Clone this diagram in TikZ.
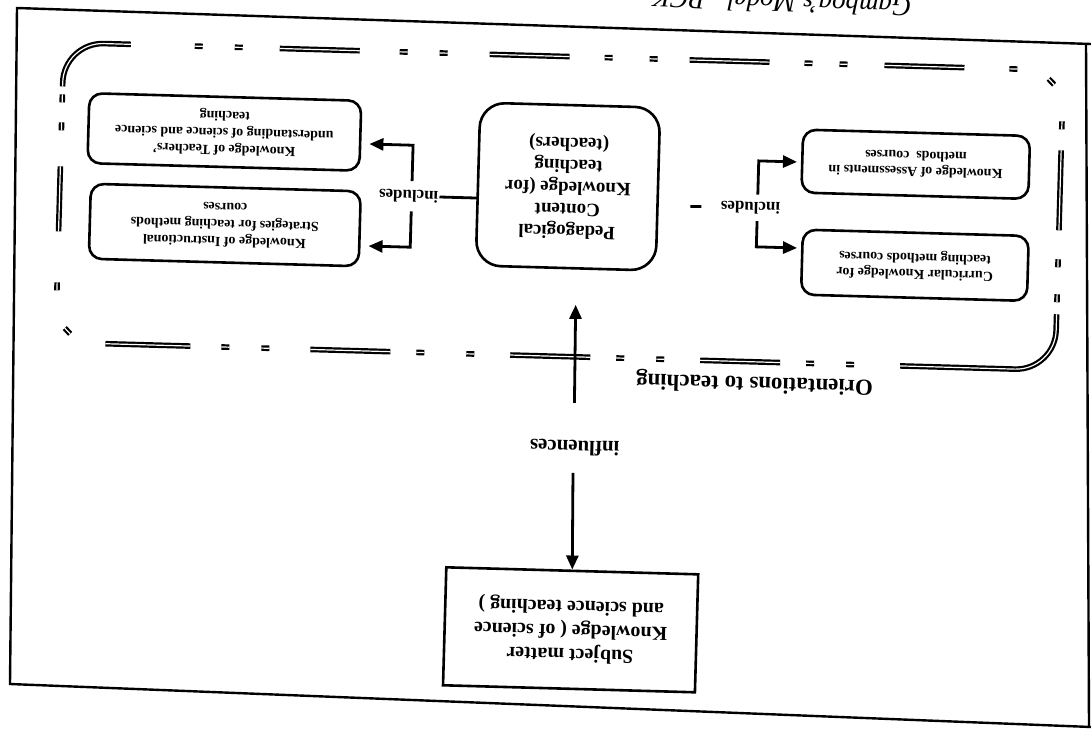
\documentclass[tikz,border=0pt]{standalone}
\usepackage{fontspec}
\setmainfont{Liberation Serif}
\usetikzlibrary{arrows.meta}
\begin{document}
\begin{tikzpicture}[x=1bp,y=-1bp,
  rbox/.style={draw, line width=2.6bp, rounded corners=13bp, align=center, rotate=178.4, inner sep=0pt,
    font=\bfseries\fontsize{14}{17}\selectfont},
  sbox/.style={rbox, font=\bfseries\fontsize{14}{16}\selectfont},
  lbl/.style={rotate=178.4, inner sep=1bp, font=\bfseries\fontsize{17}{20}\selectfont},
  arr/.style={line width=2.8bp, -{Triangle[length=14bp,width=12bp]}},
  ln/.style={line width=2.8bp},
  fr/.style={double, line width=2.2bp, double distance=1.2bp},
  outer/.style={line width=2.4bp}
]
\useasboundingbox (0,0) rectangle (1091,729);

% outer frame
\draw[outer] (1091,44) -- (17,8) -- (10,684) -- (1091,727);
\draw[outer] (1086,44) -- (1089,727);

% caption (cut off)
\node[rotate=178, inner sep=0pt, font=\itshape\fontsize{27}{30}\selectfont] (cap) at (782,3) {Gamboa's Model - PCK};

\begin{scope}[rotate around={-1.6:(545,365)}]
% dashed frame
\draw[fr, rounded corners=40bp] (55,100) -- (55,56) -- (122,56);
\foreach \a/\b in {186/194,226/234,271/351,391/399,431/439,481/561,596/604,641/649,681/761,796/804,831/839,876/956,1001/1009}
  \draw[fr] (\a,56) -- (\b,56);
\draw[fr] (1040.5,64.9) -- (1046.1,70.5);
\foreach \a/\b in {107/115,136/216,245/253,280/288}
  \draw[fr] (1055,\a) -- (1055,\b);
\draw[fr, rounded corners=40bp] (1055,300) -- (1055,356) -- (900,356);
\foreach \a/\b in {846/854,806/814,700/780,656/664,616/624,510/590,466/474,416/424,310/390,261/269,221/229,105/190}
  \draw[fr] (\a,356) -- (\b,356);
\draw[fr] (69.5,347.1) -- (63.9,341.5);
\foreach \a/\b in {296/304,180/245,136/144,108/116}
  \draw[fr] (55,\a) -- (55,\b);

% boxes
\node[rbox, minimum width=272bp, minimum height=70bp] (kt) at (218,141)
  {Knowledge of Teachers'\\understanding of science and science\\teaching};
\node[rbox, minimum width=270bp, minimum height=75bp] (ki) at (221,234)
  {Knowledge of Instructional\\Strategies for teaching methods\\courses};
\node[rbox, rounded corners=25bp, minimum width=180bp, minimum height=163bp,
  font=\bfseries\fontsize{19}{22}\selectfont] (pck) at (563,186)
  {Pedagogical\\Content\\Knowledge (for\\teaching\\(teachers)};
\node[sbox, minimum width=227bp, minimum height=63bp] (ka) at (910,154)
  {Knowledge of Assessments in\\methods~ courses};
\node[sbox, minimum width=226bp, minimum height=65bp] (kc) at (912,255)
  {Curricular Knowledge for\\teaching methods courses};
\node[rbox, rounded corners=0pt, minimum width=252bp, minimum height=118bp,
  font=\bfseries\fontsize{20}{24}\selectfont] (sm) at (578,629)
  {Subject matter\\Knowledge ( of science\\and science teaching )};

% left includes
\coordinate (pckL) at (473,200);
\node[lbl] (incL) at (404,200) {includes};
\draw[ln] (pckL) -- (incL.west);
\coordinate (jLt) at (407,149);
\coordinate (jLb) at (407,251);
\draw[arr, shorten <=8bp, shorten >=8bp] (incL.south -| jLt) -- (jLt) -- (jLt -| kt.west);
\draw[arr, shorten <=8bp, shorten >=8bp] (incL.north -| jLb) -- (jLb) -- (jLb -| ki.west);

% right includes
\coordinate (pckR) at (653,203);
\node[lbl] (incR) at (746,202) {includes};
\draw[ln, dash pattern=on 0bp off 33bp on 11bp off 200bp] (pckR) -- (incR.east);
\coordinate (jRt) at (753,155);
\coordinate (jRb) at (753,241);
\draw[arr, shorten <=6bp, shorten >=4bp] (incR.south -| jRt) -- (jRt) -- (jRt -| ka.east);
\draw[arr, shorten <=6bp, shorten >=4bp] (incR.north -| jRb) -- (jRb) -- (jRb -| kc.east);

% influences
\node[lbl, font=\bfseries\fontsize{21}{24}\selectfont] (inf) at (577,447) {influences};
\coordinate (uA) at (575.5,402);
\coordinate (uTip) at (574,304);
\draw[arr] (uA) -- (uTip);
\coordinate (uB) at (576,472);
\draw[arr] (uB) -- (sm.south);

% orientation label
\node[lbl, font=\bfseries\fontsize{23}{26}\selectfont] (ori) at (755,377) {Orientations to teaching};
\end{scope}
\end{tikzpicture}
\end{document}
